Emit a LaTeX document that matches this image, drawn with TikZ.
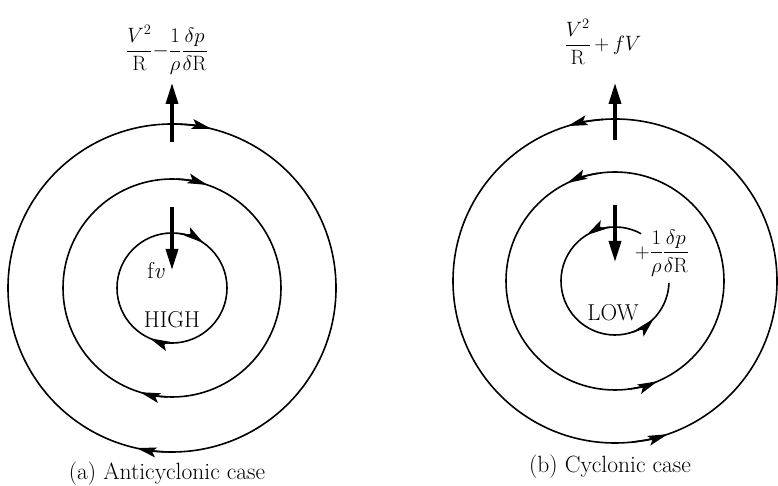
\documentclass[tikz,border=0pt]{standalone}
\usepackage{amsmath}
\usetikzlibrary{arrows.meta,calc}
\begin{document}
\begin{tikzpicture}[x=1pt,y=1pt,
  ring/.style={line width=1.6pt},
  ringtip/.style={line width=1.6pt,-{Stealth[length=20pt,width=10pt,inset=4pt]}},
  force/.style={line width=3.5pt,-{Triangle[length=21pt,width=12pt]}},
  mathlbl/.style={inner sep=0pt,font=\fontsize{20}{24}\selectfont},
  txtlbl/.style={inner sep=0pt,font=\fontsize{23}{26}\selectfont},
  captext/.style={inner sep=0pt,font=\fontsize{23.5}{26}\selectfont}]
\useasboundingbox (0,0) rectangle (778,486);
% ---------- (a) anticyclonic ----------
\coordinate (C1) at (172,198);
\draw[ring] (C1) circle[radius=164];
\draw[ring] (C1) circle[radius=109];
\draw[ring] (C1) circle[radius=55];
\draw[ringtip] ($(C1)+(90:164)$) arc[start angle=90,end angle=76,radius=164];
\draw[ringtip] ($(C1)+(270:164)$) arc[start angle=270,end angle=257.5,radius=164];
\draw[ringtip] ($(C1)+(88:109)$) arc[start angle=88,end angle=71,radius=109];
\draw[ringtip] ($(C1)+(268:109)$) arc[start angle=268,end angle=253,radius=109];
\draw[ringtip] ($(C1)+(82:55)$) arc[start angle=82,end angle=55,radius=55];
\draw[ringtip] ($(C1)+(272:55)$) arc[start angle=272,end angle=246,radius=55];
\coordinate (La) at (172,344);
\coordinate (Lb) at (172,403);
\draw[force] (La) -- (Lb);
\coordinate (Lc) at (172,279);
\coordinate (Ld) at (172,216);
\draw[force] (Lc) -- (Ld);
\node[mathlbl] (lefttop) at (167,436) {$\dfrac{V^2}{\mathrm{R}}{-}\dfrac{1}{\rho}\dfrac{\delta p}{\delta\mathrm{R}}$};
\node[txtlbl] (fv) at (156,215) {f\textit{v}};
\node[txtlbl] (high) at (172,166) {HIGH};
\node[captext] (capa) at (167,12) {(a) Anticyclonic case};
% ---------- (b) cyclonic ----------
\coordinate (C2) at (615,205);
\draw[ring] (C2) circle[radius=162];
\draw[ring] (C2) circle[radius=109];
\draw[ring] ($(C2)+(61:54)$) arc[start angle=61,end angle=358,radius=54];
\draw[ringtip] ($(C2)+(94:162)$) arc[start angle=94,end angle=107,radius=162];
\draw[ringtip] ($(C2)+(276:162)$) arc[start angle=276,end angle=289,radius=162];
\draw[ringtip] ($(C2)+(99:109)$) arc[start angle=99,end angle=116,radius=109];
\draw[ringtip] ($(C2)+(277:109)$) arc[start angle=277,end angle=293,radius=109];
\draw[ringtip] ($(C2)+(96:54)$) arc[start angle=96,end angle=122,radius=54];
\draw[ringtip] ($(C2)+(288:54)$) arc[start angle=288,end angle=316,radius=54];
\coordinate (Ra) at (615,346);
\coordinate (Rb) at (615,403);
\draw[force] (Ra) -- (Rb);
\coordinate (Rc) at (615,281);
\coordinate (Rd) at (615,224);
\draw[force] (Rc) -- (Rd);
\node[mathlbl] (righttop) at (603,444) {$\dfrac{V^2}{\mathrm{R}}\,{+}\,fV$};
\node[mathlbl] (rightin) at (662,233) {$+\dfrac{1}{\rho}\dfrac{\delta p}{\delta\mathrm{R}}$};
\node[txtlbl] (low) at (613,173) {LOW};
\node[captext] (capb) at (610,19) {(b) Cyclonic case};
\end{tikzpicture}
\end{document}
